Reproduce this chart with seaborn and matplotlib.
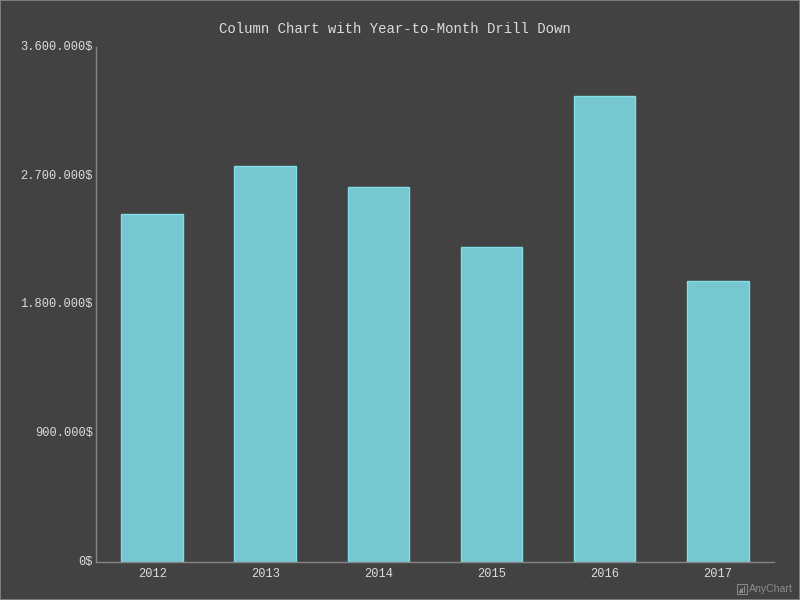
import pandas as pd
import matplotlib
matplotlib.use("Agg")
import matplotlib.pyplot as plt
import seaborn as sns
from matplotlib.patches import Rectangle
from matplotlib.ticker import FuncFormatter

years = ["2012", "2013", "2014", "2015", "2016", "2017"]
revenue = [2434000, 2769000, 2622000, 2203000, 3258000, 1966000]
y_ticks = [0, 900000, 1800000, 2700000, 3600000]

BG = "#424242"
AXIS = "#858585"
TEXT = "#dcdcdc"


def money(v, pos=None):
    return f"{int(v):,}".replace(",", ".") + "$"


sns.set_theme(style="ticks")
plt.rcParams["font.family"] = ["Liberation Mono", "DejaVu Sans"]

df = pd.DataFrame({"year": years, "revenue": revenue})

fig = plt.figure(figsize=(8, 6), dpi=100, facecolor=BG)
ax = fig.add_axes([95.7 / 800, 1 - 562.1 / 600, 678.5 / 800, 515.2 / 600], facecolor=BG)

sns.barplot(data=df, x="year", y="revenue", color="#77c7d1", saturation=1, width=0.546,
            edgecolor="#80deea", linewidth=1, ax=ax)

ax.set_xlim(-0.5, 5.5)
ax.set_ylim(0, 3600000)
ax.set_yticks(y_ticks)
ax.yaxis.set_major_formatter(FuncFormatter(money))
ax.set_xlabel("")
ax.set_ylabel("")
ax.tick_params(axis="both", length=0, labelsize=8.64, labelcolor=TEXT)
ax.tick_params(axis="y", pad=2.0)
ax.tick_params(axis="x", pad=4.5)
for lbl in ax.get_yticklabels():
    lbl.set_verticalalignment("center")
sns.despine(ax=ax)
for side in ["left", "bottom"]:
    ax.spines[side].set_color(AXIS)
    ax.spines[side].set_linewidth(1)

fig.text(395 / 800, 1 - 29 / 600, "Column Chart with Year-to-Month Drill Down",
         ha="center", va="center", fontsize=10.08, color=TEXT)

# outer border
fig.add_artist(Rectangle((0, 0), 1, 1, transform=fig.transFigure,
                         fill=False, edgecolor="#7f7f7f", linewidth=1.4))

# credits logo and label
fig.add_artist(Rectangle((737 / 800, 1 - 594 / 600), 10 / 800, 10 / 600, transform=fig.transFigure,
                         fill=False, edgecolor="#8c8c8c", linewidth=0.7))
for i, h in enumerate([2, 4, 5, 7]):
    fig.add_artist(Rectangle(((738.7 + i * 1.7) / 800, 1 - 593 / 600), 1.3 / 800, h / 600,
                             transform=fig.transFigure, color="#8c8c8c", linewidth=0))
fig.text(749 / 800, 1 - 588.5 / 600, "AnyChart", ha="left", va="center", fontsize=7.6,
         color="#8c8c8c", family="Liberation Sans")

fig.savefig("out.png", dpi=100, facecolor=BG)
plt.close(fig)
